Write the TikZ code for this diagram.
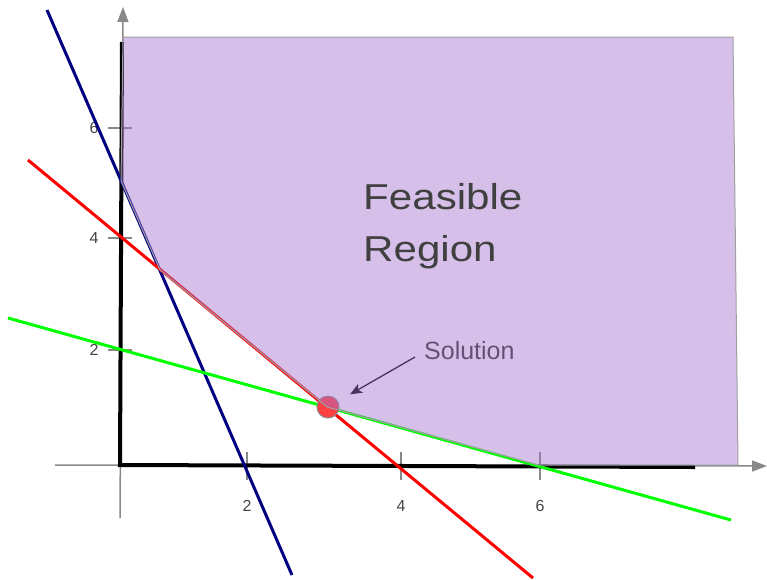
\documentclass[tikz,border=0pt]{standalone}
\usepackage{fontspec}
\setmainfont{Liberation Sans}
\newfontfamily\widefont[FakeStretch=1.17]{Liberation Sans}
\usetikzlibrary{arrows.meta}
\definecolor{regionfill}{RGB}{164,115,206}
\definecolor{axisgray}{RGB}{136,136,136}
\definecolor{ticktext}{RGB}{68,68,68}
\definecolor{solred}{RGB}{255,64,64}
\definecolor{navyline}{RGB}{0,0,128}
\definecolor{greenline}{RGB}{0,255,0}
\definecolor{feastext}{RGB}{64,64,64}
\begin{document}
\begin{tikzpicture}[x=1pt, y=-1pt,
  grayaxis/.style={draw=axisgray, line width=1.5pt, -{Triangle[length=15pt, width=11pt]}},
  tickmark/.style={draw=axisgray, line width=1.5pt},
  ticklbl/.style={text=ticktext, font=\fontsize{16}{18}\selectfont, inner sep=0pt},
  blackaxis/.style={draw=black, line width=4pt, line join=miter},
  constraint/.style={line width=3pt},
  solpoint/.style={circle, fill=solred, draw=axisgray, line width=1pt, minimum size=22pt, inner sep=0pt},
  arr/.style={-{Stealth[length=12pt, width=10pt, inset=3pt]}, line width=1.3pt, shorten >=14pt},
  sollbl/.style={text=black!80, font=\fontsize{25}{30}\selectfont, inner sep=0pt},
  region/.style={fill=regionfill, fill opacity=0.45, draw=axisgray!80, line width=1pt},
  feaslbl/.style={text=feastext, font=\widefont\fontsize{36}{52}\selectfont, align=left, inner sep=0pt},
]
\useasboundingbox (0,0) rectangle (767,579);

\coordinate (origin) at (120,465);
\draw[grayaxis] (55,465) -- (767,466);
\draw[grayaxis] (120,518) -- (123,7);

\draw[tickmark] (108,128) -- (132,128);
\draw[tickmark] (108,238) -- (132,238);
\draw[tickmark] (108,350) -- (132,350);
\draw[tickmark] (247,452) -- (247,480);
\draw[tickmark] (401,452) -- (401,480);
\draw[tickmark] (540,452) -- (540,480);

\node[ticklbl] (ylab6) at (94,128) {6};
\node[ticklbl] (ylab4) at (94,238) {4};
\node[ticklbl] (ylab2) at (94,350) {2};
\node[ticklbl] (xlab2) at (247,506) {2};
\node[ticklbl] (xlab4) at (401,506) {4};
\node[ticklbl] (xlab6) at (540,506) {6};

\draw[blackaxis] (122,42) -- (origin) -- (695,467);

\coordinate (bluetop)  at (47,10);
\coordinate (bluebot)  at (292,575);
\coordinate (redtop)   at (28,160);
\coordinate (redbot)   at (533,578);
\coordinate (greentop) at (8,318);
\coordinate (greenbot) at (731,520);
\draw[constraint, navyline]  (bluetop)  -- (bluebot);
\draw[constraint, red]       (redtop)   -- (redbot);
\draw[constraint, greenline] (greentop) -- (greenbot);

\node[solpoint] (solution) at (328,407) {};
\node[sollbl, anchor=base west] (sollabel) at (424,359) {Solution};
\coordinate (arrtail) at (415,357);
\draw[arr] (arrtail) -- (solution);

\draw[region] (123,37) -- (121,181) -- (160,270) -- (327,407) -- (538,465)
  -- (738,465) -- (733,37) -- cycle;

\node[feaslbl, anchor=north west] (feasible) at (363,183) {Feasible\\Region};
\end{tikzpicture}
\end{document}
